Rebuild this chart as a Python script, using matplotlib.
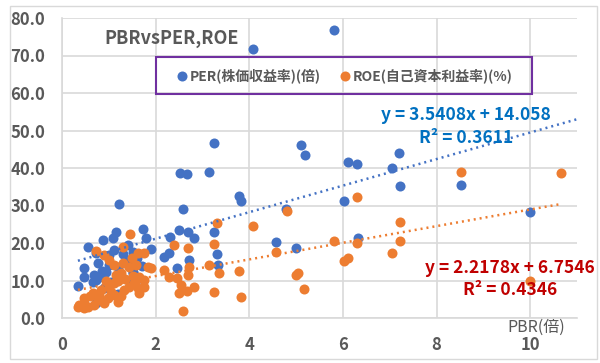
import matplotlib
matplotlib.use("Agg")
import matplotlib.pyplot as plt
from matplotlib.patches import Rectangle
import numpy as np

plt.rcParams['font.family'] = ['Noto Sans CJK JP', 'DejaVu Sans']

# PER series (x = PBR, y = PER)
per_x = [4.07, 5.82, 3.24, 2.52, 2.67, 3.13, 3.77, 3.83, 5.10, 5.18, 6.10, 6.31, 7.20, 7.04,
         7.23, 8.53, 6.03, 10.0, 6.33, 4.78, 4.58, 4.99, 1.22, 2.58, 2.50, 2.69, 3.24, 3.30,
         3.33, 2.81, 2.30, 2.18, 2.28, 2.45, 2.71, 1.73, 1.79, 1.90, 1.15, 1.09, 0.87, 0.56,
         0.47, 0.47, 0.34, 0.72, 0.72,
         0.72, 0.77, 0.68, 0.66, 0.79, 0.94, 1.00, 1.00, 1.10, 1.40, 1.51, 1.40, 1.51, 1.58,
         1.22, 1.51, 1.30, 1.20, 0.85, 1.05, 0.90, 1.60, 1.70, 1.45, 0.80, 1.20]
per_y = [71.7, 76.8, 46.7, 38.7, 38.4, 38.9, 32.5, 31.2, 46.1, 43.5, 41.6, 41.1, 44.0, 40.0,
         35.2, 35.5, 31.2, 28.3, 21.3, 29.1, 20.3, 18.7, 30.4, 29.1, 23.5, 23.0, 23.0, 17.1,
         14.1, 21.3, 21.6, 16.3, 17.3, 13.3, 15.5, 23.7, 21.3, 18.4, 23.0, 21.3, 20.8, 18.9,
         13.3, 10.9, 8.5, 10.1, 4.0,
         17.3, 14.7, 11.5, 9.6, 10.9, 12.3, 14.1, 16.8, 18.1, 19.5, 17.6, 15.5, 12.3, 10.1,
         10.7, 12.0, 17.0, 13.5, 12.5, 9.5, 8.0, 16.0, 14.0, 9.0, 5.0, 6.5]

# ROE series (x = PBR, y = ROE)
roe_x = [8.53, 10.66, 6.31, 7.23, 7.21, 5.82, 6.31, 7.04, 6.10, 6.03, 10.0, 5.16, 4.99, 5.05,
         4.80, 4.07, 3.30, 3.24, 4.58, 3.77, 3.83, 3.13, 3.35, 3.24, 2.81, 2.58, 2.50, 2.66,
         2.69, 2.71, 2.54, 2.28, 2.17, 2.45, 2.39, 2.69, 1.45, 0.72,
         1.62, 1.75, 1.58, 1.83, 1.90, 1.64, 1.58, 1.75, 1.62, 1.75, 1.64, 0.34, 0.47, 0.47,
         1.30, 0.90, 1.00, 1.10, 1.30, 1.43, 1.26, 1.51, 1.10, 1.00, 0.83, 0.66, 0.47, 0.36,
         0.55, 0.77, 0.98, 1.10, 1.32, 1.43, 1.54, 1.19, 0.90, 0.68, 1.20, 0.95, 1.05, 1.25,
         0.60, 1.35, 1.50, 0.80, 1.15]
roe_y = [38.9, 38.7, 32.3, 25.6, 20.5, 20.5, 20.0, 17.3, 16.0, 15.2, 9.9, 7.7, 11.5, 12.0,
         28.5, 24.5, 25.3, 19.7, 17.6, 12.5, 5.6, 14.1, 12.0, 6.9, 8.3, 1.9, 6.7, 7.3,
         11.5, 13.6, 8.8, 11.0, 12.7, 10.6, 19.5, 18.7, 22.4, 17.9,
         17.3, 17.3, 14.1, 13.6, 13.3, 10.9, 10.1, 10.1, 8.0, 8.3, 6.7, 2.9, 2.7, 4.0,
         18.9, 16.8, 15.5, 14.1, 14.7, 13.6, 12.0, 11.2, 9.3, 8.3, 7.5, 6.7, 5.3, 3.5,
         2.9, 4.8, 5.3, 6.1, 7.5, 8.3, 9.3, 4.3, 4.0, 3.5, 9.8, 10.0, 7.0, 6.0,
         5.8, 10.5, 16.0, 6.0, 11.5]

# Trendline coefficients (as shown on the chart)
per_slope, per_icept, per_r2 = 3.5408, 14.058, 0.3611
roe_slope, roe_icept, roe_r2 = 2.2178, 6.7546, 0.4346

x_ticks = [0, 2, 4, 6, 8, 10]
y_ticks = [0, 10, 20, 30, 40, 50, 60, 70, 80]

BLUE = '#4472C4'
ORANGE = '#ED7D31'
GREY = '#595959'
GRID = '#D9D9D9'

fig = plt.figure(figsize=(6.0, 3.63), dpi=100)
fig.patches.append(Rectangle((10/600, 1-359/363), 587/600, 353/363, transform=fig.transFigure,
                             fill=False, edgecolor=GRID, lw=1.0))
ax = fig.add_axes([62/600, 1-318/363, 515/600, 300/363])

ax.set_xlim(0, 11)
ax.set_ylim(0, 80)
ax.set_xticks(x_ticks)
ax.set_yticks(y_ticks)
ax.set_xticklabels([str(v) for v in x_ticks])
ax.set_yticklabels([f"{v:.1f}" for v in y_ticks])
ax.tick_params(length=0, labelsize=12, labelcolor=GREY)
ax.tick_params(axis='y', pad=12)
ax.tick_params(axis='x', pad=13)
for lab in ax.get_xticklabels() + ax.get_yticklabels():
    lab.set_fontweight('bold')
ax.grid(True, color=GRID, lw=1.2)
ax.set_axisbelow(True)
for s in ['top', 'right']:
    ax.spines[s].set_visible(False)
for s in ['left', 'bottom']:
    ax.spines[s].set_color(GRID)
    ax.spines[s].set_linewidth(1.2)

h1 = ax.scatter(per_x, per_y, s=52, color=BLUE, zorder=3, linewidths=0,
                label='PER(株価収益率)(倍)')
h2 = ax.scatter(roe_x, roe_y, s=52, color=ORANGE, zorder=4, linewidths=0,
                label='ROE(自己資本利益率)(%)')

xb = np.array([min(per_x), 11.0])
ax.plot(xb, per_slope * xb + per_icept, color=BLUE, lw=1.8, ls=(0, (0.8, 1.6)), zorder=5,
        clip_on=False)
xo = np.array([min(roe_x), max(roe_x)])
ax.plot(xo, roe_slope * xo + roe_icept, color=ORANGE, lw=1.8, ls=(0, (0.8, 1.6)), zorder=5)

# Legend with purple box
fig.patches.append(Rectangle((156/600, 1-94/363), 376/600, 37/363, transform=fig.transFigure,
                             fill=False, edgecolor='#7030A0', lw=1.5, zorder=10))
leg = fig.legend(handles=[h1, h2], loc='center', bbox_to_anchor=(344/600, 1-75.5/363),
                 ncol=2, frameon=False, fontsize=10, handletextpad=0.1, columnspacing=1.2,
                 markerscale=1.0, handlelength=1.0, scatterpoints=1)
for t in leg.get_texts():
    t.set_color(GREY)
    t.set_fontweight('bold')

fig.text(172/600, 1-38/363, 'PBRvsPER,ROE', ha='center', va='center', fontsize=13,
         fontweight='bold', color=GREY)

fig.text(466/600, 1-115/363, f'y = {per_slope}x + {per_icept}', ha='center', va='center',
         fontsize=12.5, fontweight='bold', color='#0070C0')
fig.text(466/600, 1-138/363, f'R² = {per_r2}', ha='center', va='center',
         fontsize=12.5, fontweight='bold', color='#0070C0')
fig.text(510/600, 1-268/363, f'y = {roe_slope}x + {roe_icept}', ha='center', va='center',
         fontsize=12.5, fontweight='bold', color='#C00000')
fig.text(510/600, 1-290/363, f'R² = {roe_r2}', ha='center', va='center',
         fontsize=12.5, fontweight='bold', color='#C00000')

fig.text(536/600, 1-327/363, 'PBR(倍)', ha='center', va='center', fontsize=11.5, color=GREY)

fig.savefig('out.png', dpi=100)
